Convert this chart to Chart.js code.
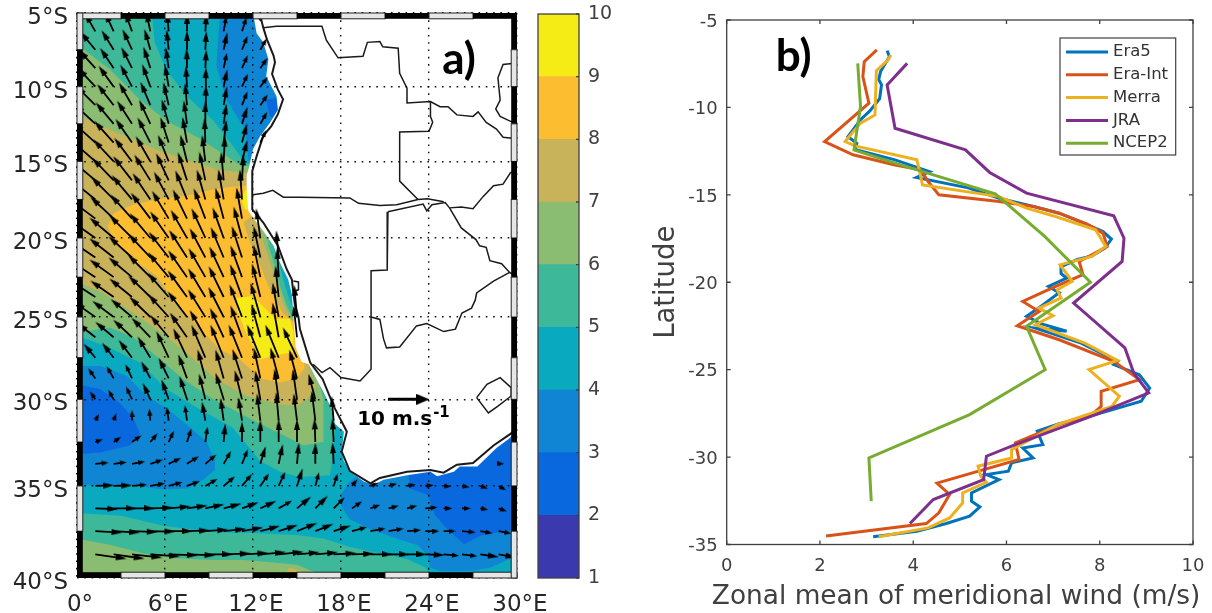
<!DOCTYPE html>
<html>
<head>
<meta charset="utf-8">
<title>Wind map and zonal mean</title>
<script src="https://cdn.jsdelivr.net/npm/chart.js@4"></script>
<style>
html, body { margin: 0; background: #fff; }
canvas { position: absolute; top: 0; filter: blur(0.55px); }
</style>
</head>
<body>
<canvas id="mapChart" width="560" height="613" style="left:0"></canvas>
<canvas id="barChart" width="90" height="613" style="left:530px"></canvas>
<canvas id="lineChart" width="572" height="613" style="left:640px"></canvas>
<script>
// ---- panel b: [wind m/s, latitude]
var era5 = [[3.44,-6.75],[3.49,-7.1],[3.3,-7.95],[3.26,-8.4],[3.32,-8.7],[3.28,-9.5],[3.07,-10.2],[2.87,-10.7],[2.6,-11.67],[2.79,-12.05],[2.75,-12.4],[3.61,-13],[4.35,-13.67],[4.07,-14],[5.18,-14.6],[5.84,-15.2],[6.58,-15.67],[7.13,-16.05],[7.68,-16.65],[8.07,-17.1],[8.25,-17.53],[8.11,-18.05],[7.83,-18.5],[7.52,-18.7],[7.17,-19.1],[7.17,-19.5],[7.29,-19.76],[6.9,-20.24],[7.13,-20.6],[6.78,-21.3],[6.43,-21.95],[6.74,-22.37],[7.29,-22.8],[6.62,-22.62],[7.6,-23.48],[8.38,-24.52],[8.3,-24.71],[8.85,-25.29],[9.07,-26.05],[8.89,-26.81],[7.91,-27.57],[7.13,-28.09],[6.66,-28.52],[6.78,-29.29],[6.35,-29.48],[6.57,-30.05],[6.11,-30.33],[6.04,-30.81],[5.57,-31],[5.84,-31.29],[5.25,-32.05],[5.25,-32.52],[5.43,-32.85],[5.21,-33.38],[4.71,-33.8],[4.08,-34.24],[3.14,-34.56]];
var eraInt = [[3.22,-6.71],[2.95,-7.38],[2.92,-8.24],[3.05,-9.76],[2.1,-11.95],[2.71,-12.71],[3.61,-13.29],[4.16,-13.57],[4.32,-14.24],[4.55,-15],[5.84,-15.38],[6.58,-15.67],[7.13,-16.05],[7.72,-16.66],[8.07,-17.19],[8.16,-17.95],[7.83,-18.43],[7.56,-18.81],[7.64,-19.57],[6.97,-20.33],[6.35,-21.1],[6.7,-21.67],[6.23,-22.49],[7.13,-23.29],[8.3,-24.52],[8.85,-25.57],[8.03,-26.24],[8.03,-27.1],[7.83,-27.57],[7.13,-28.14],[6.19,-29.19],[6.27,-30.14],[4.51,-31.49],[4.78,-32.14],[4.55,-33.19],[4.28,-33.8],[2.13,-34.52]];
var merra = [[3.52,-7],[3.46,-7.29],[3.21,-7.9],[3.18,-10.43],[2.87,-10.9],[2.54,-11.95],[2.75,-12.2],[4.08,-13],[4.2,-14.43],[5.84,-15.1],[6.43,-15.76],[7.05,-16.24],[7.91,-17],[8.13,-17.95],[7.83,-18.52],[7.15,-19],[7.41,-19.95],[7.09,-20.43],[7.17,-20.9],[6.7,-21.48],[7,-21.91],[6.62,-22.43],[7.68,-23.48],[8.38,-24.47],[7.77,-25],[8.42,-26.52],[8.26,-27.1],[7.09,-28.14],[6.11,-29.57],[6.11,-30.05],[5.39,-30.52],[5.45,-31.1],[5.57,-31.44],[5.06,-32.05],[5.06,-32.62],[4.78,-33.48],[4.32,-34.05],[3.26,-34.56]];
var jra = [[3.87,-7.48],[3.44,-8.71],[3.61,-11.19],[5.12,-12.43],[5.64,-13.72],[6.43,-14.9],[8.3,-16.2],[8.52,-17.48],[8.48,-18.81],[7.44,-21.19],[8.54,-23.76],[8.73,-25.19],[9.05,-26.33],[7.91,-27.57],[6.19,-29.29],[5.57,-29.95],[5.51,-31.29],[4.43,-32.43],[3.93,-33.8]];
var ncep2 = [[2.81,-7.48],[2.87,-9.95],[2.73,-12.43],[3.61,-13.19],[5.76,-14.94],[6.82,-17.38],[7.8,-20],[6.43,-22.52],[6.83,-25],[5.21,-27.57],[3.05,-30.05],[3.1,-32.52]];
var seriesNames = ['Era5', 'Era-Int', 'Merra', 'JRA', 'NCEP2'];
var seriesColors = ['#0072bd', '#d95319', '#edb120', '#7e2f8e', '#77ac30'];

// ---- colour bar
var levels = [1, 2, 3, 4, 5, 6, 7, 8, 9, 10];
var levelColors = ['#3a39ad', '#0a68de', '#1085d4', '#09a9c0', '#3db99a', '#8abd72', '#c9b35a', '#fdbd31', '#f5ec15'];

// ---- panel a axes, lat in degrees south
var lonTicks = [0, 6, 12, 18, 24, 30];
var lonLabels = ['0°', '6°E', '12°E', '18°E', '24°E', '30°E'];
var latTicks = [5, 10, 15, 20, 25, 30, 35, 40];
var latLabels = ['5°S', '10°S', '15°S', '20°S', '25°S', '30°S', '35°S', '40°S'];
var frameLon = [0, 3, 6, 9, 12, 15, 18, 21, 24, 27, 30];
var frameLat = [5, 7.5, 10, 12.5, 15, 17.5, 20, 22.5, 25, 27.5, 30, 32.5, 35, 37.5, 40];

// ---- contour bands [lon, lat south], painted lowest first
var baseBand = [[0,5],[30,5],[30,40],[0,40]];
var patchNorth = [[12.9,10.9],[13.7,10.7],[14.2,11.2],[13.6,12.2],[13.15,12]];
var blobSouthWest = [[0,29.1],[1.6,29.4],[2.9,30.2],[3.85,31.1],[4.3,32.05],[3.6,32.7],[1.6,33.1],[0,33.2]];
var blobSouthEast = [[22.6,34.2],[22.7,35.15],[23.9,35.5],[24.4,36.6],[25.2,37.35],[26.4,38.2],[27.5,37.75],[29.5,37.45],[30,37.4],[30,31],[25,33]];
var above4 = [[0,5],[9.75,5],[9.5,8.6],[10.2,10.9],[11.45,12.85],[11.7,14.9],[12.5,15.4],[14,20],[16,25],[19,31],[19,34.5],[18.5,34.85],[18,35.5],[18,36.1],[18.6,36.85],[20,37.4],[21.8,37.9],[23.2,38.25],[23.9,38.8],[24.1,39.45],[24.8,39.65],[26.8,39.65],[28.2,39.45],[29.5,39],[30,38.9],[30,40],[0,40],[0,34.95],[4.1,35],[5.9,35.2],[7.5,35.15],[8.6,34.65],[9.4,34.1],[9.4,33.6],[8.85,32.5],[7.5,31.5],[6.2,30.6],[4.75,29.8],[3.4,28.6],[1.6,28],[0,28]];
var above5 = [[0,5],[5.1,5],[5.3,7],[6.1,8.9],[7.5,10.65],[9.3,12.3],[10.65,14],[11.45,15.1],[13,15.3],[13,18],[13.4,20.6],[13.85,21.85],[14.2,23.1],[14.5,24],[15,25],[15.5,27.5],[17,30],[17.4,30.4],[17.6,31.45],[17.5,33.05],[17.25,34.4],[15.2,34.5],[13.85,34.2],[12.5,33.6],[10.65,31.7],[8.4,30.6],[6.1,29.4],[4.3,27.8],[2,26.8],[0,26.15]];
var above5South = [[0,36.5],[3,36.65],[5.9,37.2],[9.1,37.55],[12,37.6],[15,37.7],[16.8,37.9],[18.6,38.35],[20.7,38.7],[22.5,39],[23.75,39.45],[24,39.75],[24,40],[0,40]];
var above6 = [[0,7.15],[2.25,8.85],[4.3,10.9],[6.1,12.3],[8.4,13.5],[10.2,14.65],[11.2,15.3],[13,15.3],[13,18],[13.05,20.5],[13.5,21.8],[13.85,23.1],[14.3,24.3],[14.65,25],[15.5,26],[15.9,28],[16.55,29.1],[16.8,30],[16.8,32.5],[15.45,32.7],[14.1,32.1],[12.5,31.45],[9.3,30],[7.25,28.8],[5.4,27.4],[3.85,26.25],[2.25,25.65],[0,25.95]];
var above6South = [[0,37.9],[2.3,38.25],[4.55,38.7],[6.8,38.95],[9.1,39.05],[11.4,39.05],[13.6,39.2],[15,39.3],[16.4,39.75],[16.5,40],[0,40]];
var above7 = [[0,11.9],[2.7,13.1],[5.4,14.2],[7.5,14.9],[9.5,15.5],[11.1,15.75],[13,15.75],[13,18.5],[12.35,19.15],[12.8,20.5],[13.4,22.2],[14.05,24.1],[14.5,25],[15.5,26],[15.9,28.4],[16.25,29.2],[15.8,29.9],[15,30.4],[13.85,30.3],[12.5,30],[11.6,29.8],[9.5,28.8],[7.7,27.4],[5.9,26.05],[3.85,24.75],[1.8,23.5],[0,22.8]];
var above7South = [[14.5,39.45],[15.7,39.75],[16,40],[14,40]];
var above8 = [[2.1,19.25],[2.5,18.4],[3.8,17.85],[5.4,17.5],[7.5,17.25],[9.5,16.8],[11.2,16.6],[12.5,16.6],[12.5,18.3],[11.9,18.6],[11.35,19],[11.8,20.3],[12.5,21.8],[13.15,23.3],[14.05,24.8],[14.75,25.3],[15.5,26],[15.5,28.15],[15,28.75],[13.85,29],[12.5,28.75],[11.1,27.6],[9.75,27],[8.2,25.55],[6.6,23.95],[5.4,22.4],[3.85,21.4],[2.5,20.1]];
var above9 = [[10.9,24.55],[10.9,23.8],[12,23.7],[12.7,24.35],[13.5,25.1],[14.5,25.1],[14.75,25.9],[14.75,27.15],[13.6,27.35],[12.5,27.6],[11.55,26]];
var above9Coast = [[11.45,16.9],[11.2,17.45],[11.45,18.15],[11.8,18.15],[11.7,16.9]];

// ---- land
var landMask = [[12,5],[12.25,6.4],[12.7,7],[13.05,8.15],[12.9,9.3],[13.6,10.65],[13.7,11.55],[13.15,12.45],[12.5,13.3],[12,14.2],[11.7,15.5],[11.57,15.9],[11.57,16.84],[11.68,18.25],[12,18.7],[12.7,19.55],[13.4,20.5],[13.85,21.6],[14.4,22.65],[14.65,23.6],[14.75,24.9],[14.9,26.85],[15.3,27.75],[15.8,27.9],[16.7,29.4],[17.4,30.6],[17.6,31.45],[18.2,31.9],[18.05,33.05],[18.2,33.6],[18.65,34.2],[19.55,34.75],[20.2,34.95],[20.9,34.65],[22.5,34.4],[24.1,34.2],[24.55,34.45],[25.7,34.2],[26.1,33.9],[27.3,33.9],[28.6,32.85],[29.5,32.28],[30,31.8],[30,5]];
var coast = [[12.45,5],[12.7,6],[12.95,6.8],[13.4,7.9],[13.5,8.35],[13.3,9.15],[13.7,10.2],[14.05,10.85],[13.7,11.85],[13.25,12.65],[12.7,13.3],[12.25,14.65],[11.95,15.65],[11.95,18.15],[12.7,19],[13.7,20.5],[14.3,22],[14.65,22.65],[14.75,23.5],[14.85,24.2],[15.1,25],[15.2,25.75],[15.9,27.8],[16.75,28.8],[17.5,30.4],[18.4,31.9],[18.05,33.05],[18.6,34.15],[20,34.85],[20.65,34.55],[22.5,34.2],[24.1,34.1],[25,34.25],[25.9,33.8],[27,33.7],[28.4,32.7],[29.6,32],[30,31.6]];
var borderNorth = [[12.7,6],[13.6,5.9],[16.7,5.9],[17,6.85],[17.8,8.05],[19.5,7.95],[19.8,7],[20.65,6.95],[20.85,7.3],[21.9,7.4],[22,9.1],[22.5,10.1],[22.5,11.1],[24.1,11],[24.75,11.35],[25.3,11.35],[25.9,11.9],[27,12],[27.35,11.7],[27.9,12.4],[28.6,12.85],[29.05,13.4],[30,13.5]];
var borderZambia = [[24.1,11],[24.1,12],[24.25,12.4],[24,13],[22,13.05],[22,16.3],[23.25,17.5]];
var borderAngola = [[12,17.2],[12.7,17.1],[13.35,16.9],[14.07,17.35],[15.2,17.35],[18.6,17.4],[19.2,17.75],[20.65,17.9],[21.8,17.85],[23.25,17.5],[23.9,17.45],[25,17.65]];
var borderCaprivi = [[21.2,18.3],[23.6,17.8],[23.85,18.25],[24.2,17.85],[25.1,17.7],[25.4,18.05]];
var borderNamibia = [[21.2,18.3],[21.15,22.05],[20.05,22.1],[20.05,28.2],[19.3,28.9],[18,28.7],[17.25,28.1],[16.7,28.4],[16.1,27.9]];
var borderBotswana = [[20.05,25],[20.65,25.15],[20.9,26.35],[21.1,26.9],[22,26.85],[23.15,25.55],[23.85,25.4],[25,25.9],[25.8,25.75],[26.25,24.75],[26.9,24.45],[27.15,23.95],[27.25,23.5],[28.4,22.75],[29.5,22.2]];
var borderZimbabwe = [[25.4,18.05],[26.2,19.35],[27.2,20.1],[27.45,20.5],[27.9,20.6],[28.15,21.45],[28.95,21.65],[29.5,22.2],[30,22.5]];
var borderZambezi = [[25.4,18.05],[26.2,18],[27,18.1],[27.7,17.3],[28.4,16.6],[29.05,16.5],[29.55,15.75],[30,15.5]];
var borderMalawi = [[30,8.4],[29.05,8.5],[28.7,9.4],[28.85,10.9],[28.55,11.5],[28.85,12],[29.6,12.35],[30,12.4]];
var lesotho = [[27.25,29.9],[27.95,29.1],[28.85,28.7],[29.6,29.3],[29.6,29.8],[28.7,30.4],[28.05,30.8],[27.25,29.9]];
var walvis = [[14.75,22.75],[15.1,22.8],[15.1,23.3],[14.75,23.4]];
var cabinda = [[12.15,5],[12.5,5.5],[12.95,5]];
var borders = [borderNorth, borderZambia, borderAngola, borderCaprivi, borderNamibia, borderBotswana, borderZimbabwe, borderZambezi, borderMalawi, lesotho, walvis, cabinda];

// ---- wind: one row per latitude, column i sits at lon 1.25*(i+1)
var windLats = [6.25,7.5,8.75,10,11.25,12.5,13.75,15,16.25,17.5,18.75,20,21.25,22.5,23.75,25,26.25,27.5,28.75,30,31.25,32.5,33.75,35,36.25,37.5,38.75];
var windSpeed = [
 [4.7,4.7,4.5,4.3,4,3.8,3.6,3.4,3.2],
 [5.2,5,4.9,4.6,4.2,4,3.8,3.5,3.2,2.7],
 [5.6,5.4,5.2,4.9,4.5,4.1,3.8,3.4,3,2.5],
 [5.9,5.8,5.6,5.3,4.9,4.4,4,3.5,3,2.5],
 [6.3,6.1,5.9,5.7,5.2,4.8,4.3,3.9,3.2,2.7],
 [6.7,6.5,6.3,6,5.7,5.2,4.9,4.3,3.6,2.9],
 [6.9,6.8,6.7,6.5,6.1,5.9,5.4,5,4.1,2.9],
 [7.2,7.1,6.9,6.8,6.6,6.3,6,5.8,4.7],
 [7.5,7.4,7.2,7.1,7,6.9,6.8,6.6,5.9],
 [7.6,7.6,7.5,7.5,7.4,7.4,7.3,7.2,7],
 [7.5,7.6,7.7,7.7,7.7,7.7,7.7,7.6,7.5],
 [7.3,7.5,7.7,7.7,7.7,7.7,7.8,7.7,7.7,7],
 [7.1,7.3,7.5,7.7,7.7,7.8,7.9,7.9,7.9,7.6,6.2],
 [6.8,7,7.2,7.5,7.7,7.8,8,8.1,8.1,7.9,6.8],
 [6.3,6.6,6.8,7.2,7.6,7.8,8,8.2,8.4,8.3,7.4],
 [5.8,6.1,6.4,6.8,7.2,7.6,7.8,8.1,8.4,8.6,8.4,7.7],
 [5,5.3,5.8,6.2,6.7,7,7.4,7.7,8.1,8.3,8.5,7.7],
 [3.7,3.9,4.8,5.5,6.8,7.7,8.6,8.6,8.6,8.6,8.6,8],
 [2.5,3,3.4,4,5,5.8,7,7,7.3,7.4,7.6,7],
 [1.7,2.1,3,3.6,4.5,5.4,6,6.4,7,6.8,7.3,7.2,6],
 [1.2,1.2,2,2.4,2.9,3.4,3.9,5,5.2,6.2,6.6,6.2,7,5.5],
 [1.3,1.6,2.3,2.2,2.5,3,3.4,3.8,4.3,4.8,5,5,5.2,5.2],
 [2.8,2.8,2.8,2.8,2.9,3,3.1,3.2,3.4,3.7,4.2,4.5,4.5,4.6,null,null,null,null,null,null,null,null,0.6],
 [3.8,3.7,3.3,3.3,3.1,2.9,3,3.2,3.4,3.3,3.4,3.7,3,2.7,1.4,1.5,1.5,1.5,1.4,1.2,1.2,1.3,1.5],
 [5,5,5,5,4.8,4.4,4,3.7,3.5,3.5,3.4,3.7,3.5,3.4,2.5,2,2,2,2.5,1.5,1.5,1.3,1.5],
 [6.2,6,5.8,5.6,5.4,5,5,4.9,4.6,4.3,4.2,4.7,4,3.6,3.4,3.4,3.3,3,3,2.4,2.9,2.5,2.7],
 [7.5,7.4,7.2,7,6.8,6.6,6.4,6.2,6,5.8,5.6,5,5,5,4.8,4.8,4.5,4.2,4,3.4,3.4,3.8,3.6]
];
var windDir = [
 [-30,-25,-20,-12,-5,0,4,10,18],
 [-40,-32,-25,-16,-6,0,3,12,22,30],
 [-42,-34,-27,-18,-8,-1,3,12,24,35],
 [-43,-36,-28,-20,-10,-3,2,12,25,38],
 [-45,-38,-30,-23,-13,-5,2,10,22,35],
 [-47,-40,-33,-25,-16,-8,0,8,18,30],
 [-48,-42,-35,-27,-18,-10,-2,7,15,25],
 [-49,-43,-37,-30,-22,-14,-7,3,14],
 [-50,-44,-38,-32,-25,-18,-12,-5,3],
 [-51,-45,-40,-34,-28,-22,-16,-10,-4],
 [-53,-47,-42,-37,-31,-26,-21,-15,-10],
 [-55,-50,-45,-40,-35,-30,-25,-20,-15,-8],
 [-56,-52,-48,-43,-38,-33,-28,-23,-18,-12,-5],
 [-57,-54,-50,-45,-40,-35,-30,-25,-20,-12,-3],
 [-57,-55,-51,-46,-41,-36,-31,-26,-20,-14,-6],
 [-55,-53,-50,-46,-42,-37,-32,-27,-21,-16,-10,-5],
 [-52,-50,-47,-44,-40,-35,-30,-25,-20,-15,-10,-6],
 [-40,-38,-37,-31,-25,-25,-23,-22,-22,-22,-22,-25],
 [-35,-30,-25,-28,-26,-20,-15,-16,-18,-12,-15,-15],
 [-35,-30,-25,-25,-20,-18,-14,-17,-14,-10,-8,-8,-15],
 [30,20,0,-5,-8,-8,-10,-8,-9,-7,-5,-7,-7,-5],
 [70,55,55,40,25,18,8,5,0,0,0,0,-2,-3],
 [85,83,80,72,65,58,50,30,22,17,12,5,0,-3,null,null,null,null,null,null,null,null,90],
 [88,88,85,80,75,70,60,50,40,35,25,18,15,18,40,70,75,80,85,95,100,110,120],
 [92,90,90,88,85,82,78,75,70,65,60,50,45,45,55,70,75,75,85,90,90,100,110],
 [93,93,92,91,90,88,86,84,80,75,72,68,68,72,75,80,80,85,90,90,95,100,100],
 [98,98,96,94,92,92,90,88,87,85,84,85,85,87,88,90,90,90,92,95,97,98,100]
];
var legendArrow = {lon: 21.2, lat: 30, speed: 10, dir: 90};

function merc(lat) {
    return -Math.log(Math.tan(Math.PI / 4 + lat * Math.PI / 360));
}
function toPts(list) {
    return list.map(function(p) { return {x: p[0], y: merc(p[1])}; });
}
// arrow length per m/s, in lon degrees and mercator units (10 m/s is 35 px)
var ARROW_LON = 3.5 / 14.667;
var ARROW_MERC = 3.5 / 836;
function arrowTip(lon, lat, spd, dir) {
    var r = dir * Math.PI / 180;
    return {x: lon + spd * Math.sin(r) * ARROW_LON, y: merc(lat) + spd * Math.cos(r) * ARROW_MERC};
}
function headImage(w, h) {
    var c = document.createElement('canvas');
    c.width = w; c.height = h;
    var g = c.getContext('2d');
    g.fillStyle = '#000';
    g.beginPath();
    g.moveTo(w / 2, 0); g.lineTo(w, h); g.lineTo(0, h);
    g.closePath(); g.fill();
    return c;
}
var bigHead = headImage(6, 11), smallHead = headImage(5, 7), legendHead = headImage(11, 13);

var shaftPts = [], headPts = [], headDirs = [], headImgs = [];
windLats.forEach(function(lat, r) {
    windSpeed[r].forEach(function(spd, c) {
        if (spd === null) return;
        var lon = 1.25 * (c + 1), dir = windDir[r][c];
        var tip = arrowTip(lon, lat, spd, dir);
        shaftPts.push({x: lon, y: merc(lat)}, tip, {x: NaN, y: NaN});
        headPts.push(tip);
        headDirs.push(dir);
        headImgs.push(spd > 3.4 ? bigHead : smallHead);
    });
});

// fills a dataset's own points as a closed shape
var polygonFill = {
    id: 'polygonFill',
    beforeDatasetDraw: function(chart, args) {
        var ds = chart.data.datasets[args.index];
        if (!ds.polygon) return;
        var pts = args.meta.data, a = chart.chartArea, ctx = chart.ctx;
        ctx.save();
        ctx.beginPath();
        ctx.rect(a.left, a.top, a.right - a.left, a.bottom - a.top);
        ctx.clip();
        ctx.beginPath();
        pts.forEach(function(p, i) { if (i) ctx.lineTo(p.x, p.y); else ctx.moveTo(p.x, p.y); });
        ctx.closePath();
        ctx.fillStyle = ds.polygon;
        ctx.fill();
        ctx.restore();
    }
};

var mapFrame = {
    id: 'mapFrame',
    afterDraw: function(chart) {
        var ctx = chart.ctx, xs = chart.scales.x, ys = chart.scales.y, a = chart.chartArea, w = 5.8;
        function seg(x, y, sw, sh, dark) {
            ctx.fillStyle = dark ? '#000' : '#e6e6e6';
            ctx.fillRect(x, y, sw, sh);
            if (!dark) {
                ctx.strokeStyle = '#222';
                ctx.lineWidth = 1;
                ctx.strokeRect(x, y, sw, sh);
            }
        }
        frameLon.slice(1).forEach(function(lon, i) {
            var x0 = xs.getPixelForValue(frameLon[i]), x1 = xs.getPixelForValue(lon);
            seg(x0, a.top, x1 - x0, w, i % 2 === 1);
            seg(x0, a.bottom - w, x1 - x0, w, i % 2 === 0);
        });
        frameLat.slice(1).forEach(function(lat, i) {
            var y0 = ys.getPixelForValue(merc(frameLat[i])), y1 = ys.getPixelForValue(merc(lat));
            seg(a.left, y0, w, y1 - y0, i % 2 === 1);
            seg(a.right - w, y0, w, y1 - y0, i % 2 === 0);
        });
        // panel letter and arrow caption
        ctx.fillStyle = '#000';
        ctx.textBaseline = 'alphabetic';
        ctx.textAlign = 'left';
        ctx.font = 'bold 44px Lato';
        ctx.fillText('a)', xs.getPixelForValue(24.9), ys.getPixelForValue(merc(9.15)));
        ctx.font = 'bold 20px "DejaVu Sans"';
        var capX = xs.getPixelForValue(19.1), capY = ys.getPixelForValue(merc(31.5));
        ctx.fillText('10 m.s', capX, capY);
        ctx.font = 'bold 15px "DejaVu Sans"';
        ctx.fillText('-1', capX + 76, capY - 8);
    }
};

function polygonDs(list, color) {
    return {data: toPts(list), polygon: color, showLine: false, pointRadius: 0};
}
function lineDs(list, width) {
    return {data: toPts(list), showLine: true, borderColor: '#1a1a1a', borderWidth: width, pointRadius: 0};
}
// labels must not push the chart area around, the axes are placed by hand
function fixAxis(s, size) {
    if (s.isHorizontal()) s.height = size; else s.width = size;
    s.paddingTop = s.paddingBottom = s.paddingLeft = s.paddingRight = 0;
}

var c = levelColors;
var mapSets = [
    polygonDs(baseBand, c[2]),
    polygonDs(patchNorth, c[1]),
    polygonDs(blobSouthWest, c[1]),
    polygonDs(blobSouthEast, c[1]),
    polygonDs(above4, c[3]),
    polygonDs(above5, c[4]),
    polygonDs(above5South, c[4]),
    polygonDs(above6, c[5]),
    polygonDs(above6South, c[5]),
    polygonDs(above7, c[6]),
    polygonDs(above7South, c[6]),
    polygonDs(above8, c[7]),
    polygonDs(above9, c[8]),
    polygonDs(above9Coast, c[8]),
    polygonDs(landMask, '#fff')
];
borders.forEach(function(b) { mapSets.push(lineDs(b, 1.5)); });
mapSets.push(lineDs(coast, 2));
mapSets.push({data: shaftPts, showLine: true, spanGaps: false, borderColor: '#000', borderWidth: 1.8, pointRadius: 0});
mapSets.push({
    data: headPts, showLine: false, pointRadius: 5,
    pointStyle: function(ctx) { return headImgs[ctx.dataIndex]; },
    rotation: function(ctx) { return headDirs[ctx.dataIndex]; }
});
var refTip = arrowTip(legendArrow.lon, legendArrow.lat, legendArrow.speed, legendArrow.dir);
mapSets.push({data: [{x: legendArrow.lon, y: merc(legendArrow.lat)}, refTip], showLine: true, borderColor: '#000', borderWidth: 3, pointRadius: 0});
mapSets.push({data: [refTip], showLine: false, pointRadius: 6, pointStyle: legendHead, rotation: legendArrow.dir});
mapSets.forEach(function(ds, i) { ds.order = mapSets.length - i; });

new Chart(document.getElementById('mapChart'), {
    type: 'scatter',
    data: {datasets: mapSets},
    plugins: [polygonFill, mapFrame],
    options: {
        responsive: false,
        animation: false,
        events: [],
        layout: {autoPadding: false, padding: {left: 0, top: 13, right: 43, bottom: 0}},
        plugins: {legend: {display: false}, tooltip: {enabled: false}},
        scales: {
            x: {
                type: 'linear', min: 0, max: 30,
                afterBuildTicks: function(s) { s.ticks = lonTicks.map(function(v) { return {value: v}; }); },
                afterFit: function(s) { fixAxis(s, 35); },
                grid: {z: 1, color: '#111', lineWidth: 1.4, drawTicks: false},
                border: {display: false, dash: [1.6, 5.7]},
                ticks: {
                    autoSkip: false, maxRotation: 0, padding: 13, labelOffset: 3, color: '#262626',
                    font: {family: 'DejaVu Sans', size: 23},
                    callback: function(v, i) { return lonLabels[i]; }
                }
            },
            y: {
                type: 'linear', min: merc(40), max: merc(5),
                afterBuildTicks: function(s) { s.ticks = latTicks.map(function(v) { return {value: merc(v)}; }); },
                afterFit: function(s) { fixAxis(s, 77); },
                grid: {z: 1, color: '#111', lineWidth: 1.4, drawTicks: false},
                border: {display: false, dash: [1.6, 5.7]},
                ticks: {
                    autoSkip: false, padding: 9, labelOffset: 5, color: '#262626',
                    font: {family: 'DejaVu Sans', size: 23},
                    callback: function(v, i) { return latLabels[i]; }
                }
            }
        }
    }
});

// box plus inward ticks, the way the original axes look
function boxTicks(len) {
    return {
        id: 'boxTicks',
        afterDraw: function(chart) {
            var ctx = chart.ctx, a = chart.chartArea, xs = chart.scales.x, ys = chart.scales.y;
            ctx.save();
            ctx.strokeStyle = '#404040';
            ctx.lineWidth = 1.3;
            ctx.strokeRect(a.left, a.top, a.right - a.left, a.bottom - a.top);
            ctx.beginPath();
            if (xs.type === 'linear') {
                xs.ticks.forEach(function(t) {
                    var x = xs.getPixelForValue(t.value);
                    ctx.moveTo(x, a.top); ctx.lineTo(x, a.top + len);
                    ctx.moveTo(x, a.bottom); ctx.lineTo(x, a.bottom - len);
                });
            }
            ys.ticks.forEach(function(t) {
                var y = ys.getPixelForValue(t.value);
                if (xs.type === 'linear') { ctx.moveTo(a.left, y); ctx.lineTo(a.left + len, y); }
                ctx.moveTo(a.right, y); ctx.lineTo(a.right - len, y);
            });
            ctx.stroke();
            ctx.restore();
        }
    };
}

new Chart(document.getElementById('barChart'), {
    type: 'bar',
    data: {
        labels: [''],
        datasets: levelColors.map(function(col, i) {
            return {data: [[levels[i], levels[i + 1]]], backgroundColor: col, barPercentage: 1, categoryPercentage: 1, grouped: false};
        })
    },
    plugins: [boxTicks(3)],
    options: {
        responsive: false,
        animation: false,
        events: [],
        layout: {autoPadding: false, padding: {left: 8, top: 14, right: 0, bottom: 35}},
        plugins: {legend: {display: false}, tooltip: {enabled: false}},
        scales: {
            x: {display: false},
            y: {
                position: 'right', min: 1, max: 10,
                afterFit: function(s) { fixAxis(s, 41); },
                grid: {display: false, drawTicks: false},
                border: {display: false},
                ticks: {stepSize: 1, padding: 9, color: '#404040', font: {family: 'DejaVu Sans', size: 19}}
            }
        }
    }
});

var lineLegend = {
    id: 'lineLegend',
    afterDraw: function(chart) {
        var ctx = chart.ctx, xs = chart.scales.x, ys = chart.scales.y;
        ctx.save();
        // wider than the axis, a scale title would get squeezed to fit
        ctx.fillStyle = '#404040';
        ctx.font = '26.4px "DejaVu Sans"';
        ctx.textAlign = 'center';
        ctx.textBaseline = 'middle';
        ctx.fillText('Zonal mean of meridional wind (m/s)', xs.getPixelForValue(4.92), chart.height - 16);
        ctx.textAlign = 'left';
        ctx.textBaseline = 'alphabetic';
        // panel letter
        ctx.fillStyle = '#000';
        ctx.font = 'bold 44px Lato';
        ctx.fillText('b)', xs.getPixelForValue(1.05), ys.getPixelForValue(-7.9));
        // legend box
        var left = xs.left + 333.3, top = ys.top + 18, w = 115.7, h = 117;
        ctx.fillStyle = '#fff';
        ctx.fillRect(left, top, w, h);
        ctx.strokeStyle = '#404040';
        ctx.lineWidth = 1.2;
        ctx.strokeRect(left, top, w, h);
        ctx.font = '16.5px "DejaVu Sans"';
        ctx.textBaseline = 'middle';
        chart.data.datasets.forEach(function(ds, i) {
            var y = top + 14 + i * 22.8;
            ctx.strokeStyle = ds.borderColor;
            ctx.lineWidth = 3;
            ctx.beginPath();
            ctx.moveTo(left + 6, y);
            ctx.lineTo(left + 48, y);
            ctx.stroke();
            ctx.fillStyle = '#333';
            ctx.fillText(ds.label, left + 53, y);
        });
        ctx.restore();
    }
};

var allSeries = [era5, eraInt, merra, jra, ncep2];
new Chart(document.getElementById('lineChart'), {
    type: 'scatter',
    data: {
        datasets: allSeries.map(function(s, i) {
            return {
                label: seriesNames[i],
                data: s.map(function(p) { return {x: p[0], y: p[1]}; }),
                showLine: true, borderColor: seriesColors[i], borderWidth: 3,
                pointRadius: 0, order: allSeries.length - i
            };
        })
    },
    plugins: [boxTicks(4), lineLegend],
    options: {
        responsive: false,
        animation: false,
        events: [],
        layout: {autoPadding: false, padding: {left: 0, top: 20, right: 19, bottom: 0}},
        plugins: {legend: {display: false}, tooltip: {enabled: false}},
        scales: {
            x: {
                min: 0, max: 10,
                afterFit: function(s) { fixAxis(s, 68.5); },
                grid: {display: false, drawTicks: false},
                border: {display: false},
                ticks: {stepSize: 2, padding: 11, maxRotation: 0, color: '#404040', font: {family: 'DejaVu Sans', size: 18}}
            },
            y: {
                min: -35, max: -5,
                afterFit: function(s) { fixAxis(s, 86.7); },
                grid: {display: false, drawTicks: false},
                border: {display: false},
                title: {display: true, text: 'Latitude', color: '#404040', font: {family: 'DejaVu Sans', size: 27.5}, padding: {top: 10, bottom: 0}},
                ticks: {stepSize: 5, padding: 9, labelOffset: 2, color: '#404040', font: {family: 'DejaVu Sans', size: 18}}
            }
        }
    }
});
</script>
</body>
</html>
